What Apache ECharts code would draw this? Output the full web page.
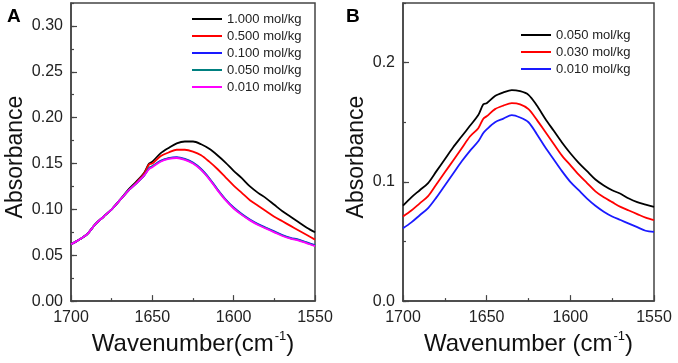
<!DOCTYPE html>
<html><head><meta charset="utf-8">
<script src="https://cdn.jsdelivr.net/npm/echarts@6/dist/echarts.min.js"></script>
<style>html,body{margin:0;padding:0;background:#fff}#c{width:678px;height:363px}</style>
</head><body><div id="c"></div>
<script>
// ---- Panel A data ----
const wnA = [1700,1695,1690,1685,1680,1675,1670,1665,1660,1655,1652,1650,1645,1640,1635,1630,1625,1620,1615,1610,1605,1600,1595,1590,1585,1580,1575,1570,1565,1560,1555,1550];
const a1000 = [0.062,0.067,0.073,0.084,0.092,0.100,0.110,0.121,0.130,0.140,0.150,0.152,0.161,0.167,0.172,0.174,0.174,0.171,0.166,0.159,0.151,0.142,0.134,0.125,0.118,0.112,0.105,0.098,0.092,0.086,0.080,0.075];
const a0500 = [0.062,0.067,0.073,0.084,0.092,0.100,0.110,0.120,0.129,0.139,0.149,0.150,0.158,0.162,0.165,0.165,0.163,0.159,0.152,0.144,0.135,0.126,0.118,0.110,0.104,0.098,0.092,0.087,0.082,0.077,0.072,0.067];
const a0100 = [0.062,0.067,0.073,0.084,0.092,0.100,0.110,0.120,0.128,0.137,0.145,0.147,0.153,0.156,0.157,0.155,0.151,0.144,0.134,0.122,0.111,0.102,0.095,0.089,0.084,0.080,0.076,0.072,0.069,0.067,0.064,0.061];
const a0050 = [0.062,0.067,0.073,0.084,0.092,0.100,0.110,0.120,0.128,0.137,0.145,0.147,0.1525,0.1555,0.1565,0.1545,0.1505,0.1435,0.1335,0.1215,0.1105,0.1015,0.0945,0.0885,0.0835,0.0795,0.0755,0.0715,0.0685,0.0665,0.0635,0.0605];
const a0010 = [0.062,0.067,0.073,0.084,0.092,0.100,0.110,0.120,0.128,0.137,0.144,0.146,0.152,0.155,0.156,0.154,0.150,0.143,0.133,0.121,0.110,0.101,0.094,0.088,0.083,0.079,0.075,0.071,0.068,0.066,0.063,0.060];
const namesA = ['1.000 mol/kg','0.500 mol/kg','0.100 mol/kg','0.050 mol/kg','0.010 mol/kg'];
const colorsA = ['#000000','#ff0000','#1a1aff','#008080','#ff00ff'];

// ---- Panel B data ----
const wnB = [1700,1695,1690,1685,1680,1675,1670,1665,1660,1655,1652,1650,1645,1640,1635,1630,1625,1620,1615,1610,1605,1600,1595,1590,1585,1580,1575,1570,1565,1560,1555,1550];
const b0050 = [0.080,0.087,0.093,0.099,0.109,0.119,0.129,0.138,0.147,0.156,0.165,0.166,0.172,0.175,0.177,0.176,0.173,0.164,0.153,0.143,0.133,0.124,0.116,0.109,0.102,0.097,0.093,0.090,0.086,0.083,0.081,0.079];
const b0030 = [0.071,0.076,0.082,0.088,0.098,0.108,0.118,0.128,0.138,0.145,0.153,0.155,0.161,0.164,0.166,0.165,0.161,0.152,0.142,0.132,0.122,0.114,0.106,0.099,0.092,0.087,0.083,0.079,0.076,0.073,0.070,0.068];
const b0010 = [0.061,0.066,0.072,0.078,0.087,0.097,0.107,0.117,0.126,0.134,0.141,0.144,0.150,0.153,0.156,0.154,0.150,0.140,0.129,0.119,0.109,0.100,0.093,0.086,0.080,0.075,0.071,0.068,0.065,0.062,0.059,0.058];
const namesB = ['0.050 mol/kg','0.030 mol/kg','0.010 mol/kg'];
const colorsB = ['#000000','#ff0000','#1a1aff'];

// ---- tick labels ----
const xTicks = [1700,1650,1600,1550];
const yTicksA = [0.00,0.05,0.10,0.15,0.20,0.25,0.30];
const yTicksB = [0.0,0.1,0.2];

const FONT = 'Liberation Sans, Arial, sans-serif';
const AX = '#444';
const pairs = (xs, ys) => xs.map((x,i)=>[x, ys[i]]);

const chart = echarts.init(document.getElementById('c'), null, {renderer:'canvas'});

function xAxisFor(gi, title){
  return {
    type:'value', gridIndex:gi, inverse:true, min:1550, max:1700, interval:50,
    axisLine:{show:true, lineStyle:{color:AX, width:1.5}},
    axisTick:{show:true, inside:true, length:6, lineStyle:{color:AX, width:1.2}},
    minorTick:{show:true, splitNumber:2, length:3, lineStyle:{color:AX, width:1.2}},
    splitLine:{show:false},
    axisLabel:{color:'#222', fontSize:16, fontFamily:FONT, margin:8,
      formatter:v => xTicks.includes(v) ? String(v) : ''},
    name:title, nameLocation:'middle', nameGap:25,
    nameTextStyle:{color:'#111', fontSize:24, fontFamily:FONT, lineHeight:28,
      rich:{sup:{fontSize:13, fontFamily:FONT, color:'#111', verticalAlign:'top', lineHeight:14, padding:[0,0,0,1]}}}
  };
}
function yMajor(gi, max, interval, ticks, digits, gap){
  return {
    type:'value', gridIndex:gi, min:0, max:max, interval:interval, position:'left',
    axisLine:{show:true, lineStyle:{color:AX, width:1.5}},
    axisTick:{show:true, inside:true, length:6, lineStyle:{color:AX, width:1.2}},
    splitLine:{show:false},
    axisLabel:{color:'#222', fontSize:16, fontFamily:FONT, margin:8, showMaxLabel:false,
      formatter:v => ticks.some(t=>Math.abs(t-v)<1e-9) ? v.toFixed(digits) : ''},
    name:'Absorbance', nameLocation:'middle', nameGap:gap,
    nameTextStyle:{color:'#111', fontSize:23, fontFamily:FONT, padding:[0,10,0,0]}
  };
}
function yMinor(gi, max, interval){
  return {
    type:'value', gridIndex:gi, min:0, max:max, interval:interval, position:'left', offset:0,
    axisLine:{show:false}, axisLabel:{show:false}, splitLine:{show:false},
    axisTick:{show:true, inside:true, length:3, lineStyle:{color:AX, width:1.2}}
  };
}

const seriesA = [a1000,a0500,a0100,a0050,a0010].map((d,i)=>({
  name:namesA[i], type:'line', xAxisIndex:0, yAxisIndex:0, data:pairs(wnA,d),
  symbol:'none', smooth:0.3, lineStyle:{color:colorsA[i], width:1.8}, itemStyle:{color:colorsA[i]}, z:2+i
}));
const seriesB = [b0050,b0030,b0010].map((d,i)=>({
  name:namesB[i]+' ', type:'line', xAxisIndex:1, yAxisIndex:2, data:pairs(wnB,d),
  symbol:'none', smooth:0.3, lineStyle:{color:colorsB[i], width:1.8}, itemStyle:{color:colorsB[i]}, z:2+i
}));

const legendCommon = {
  orient:'vertical', icon:'rect', itemWidth:30, itemHeight:2, itemGap:3,
  textStyle:{color:'#222', fontSize:13, fontFamily:FONT, lineHeight:14}, selectedMode:false, padding:0
};

chart.setOption({
  animation:false,
  backgroundColor:'#fff',
  grid:[
    {left:71, top:3, width:244, height:300, show:true, borderColor:AX, borderWidth:1.5, backgroundColor:'transparent'},
    {left:403, top:3, width:251, height:300, show:true, borderColor:AX, borderWidth:1.5, backgroundColor:'transparent'}
  ],
  xAxis:[ xAxisFor(0,'Wavenumber(cm{sup|-1})'), xAxisFor(1,'Wavenumber (cm{sup|-1})') ],
  yAxis:[
    yMajor(0, 0.325, 0.05, yTicksA, 2, 44), yMinor(0, 0.325, 0.025),
    yMajor(1, 0.25, 0.1, yTicksB, 1, 35), yMinor(1, 0.25, 0.05)
  ],
  legend:[
    Object.assign({}, legendCommon, {left:192, top:12, data:namesA.slice()}),
    Object.assign({}, legendCommon, {left:521, top:28, data:namesB.map(n=>n+' ')})
  ],
  graphic:[
    {type:'text', left:7, top:7, style:{text:'A', fontSize:19, fontWeight:'bold', fontFamily:FONT, fill:'#000'}},
    {type:'text', left:346, top:7, style:{text:'B', fontSize:19, fontWeight:'bold', fontFamily:FONT, fill:'#000'}}
  ],
  series: seriesA.concat(seriesB)
});
</script></body></html>
